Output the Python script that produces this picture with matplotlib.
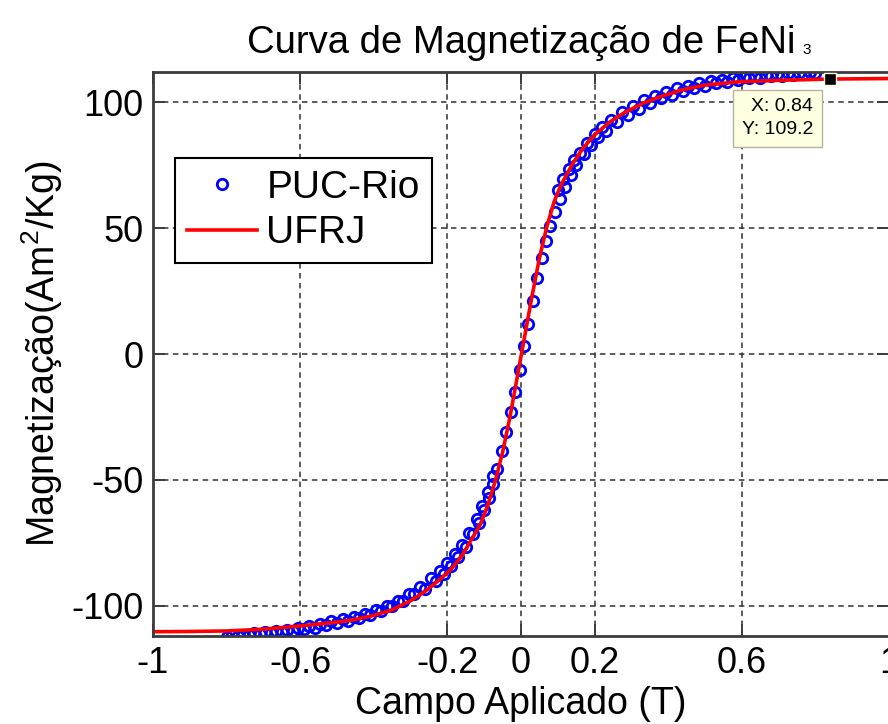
import matplotlib
matplotlib.use("Agg")
import matplotlib.pyplot as plt

plt.rcParams['font.family'] = ['Liberation Sans', 'DejaVu Sans']
plt.rcParams['mathtext.default'] = 'regular'
plt.rcParams['axes.unicode_minus'] = False

# UFRJ (linha vermelha)
ufrj_x = [-1.0, -0.9, -0.8, -0.7, -0.6, -0.5, -0.45, -0.4, -0.35, -0.3, -0.26,
          -0.22, -0.19, -0.16, -0.13, -0.11, -0.09, -0.07, -0.05, -0.03, -0.01,
          0.01, 0.03, 0.05, 0.07, 0.09, 0.11, 0.14, 0.17, 0.2, 0.24, 0.28, 0.33,
          0.38, 0.44, 0.5, 0.59, 0.7, 0.84, 1.0]
ufrj_y = [-110.3, -110.2, -110.0, -109.3, -108.0, -106.5, -105.4, -103.8, -101.6,
          -98.0, -94.2, -89.5, -85.5, -80.0, -72.5, -67.5, -60.0, -50.5, -39.0,
          -25.0, -9.0, 7.0, 23.0, 38.0, 50.5, 60.5, 67.5, 75.5, 82.0, 87.0,
          92.0, 95.8, 99.5, 102.3, 105.0, 106.8, 108.1, 108.7, 109.2, 109.4]

# PUC-Rio (circulos azuis): ramo ascendente
puc_x_a = [-0.80, -0.77, -0.74, -0.71, -0.68, -0.65, -0.62, -0.59, -0.56, -0.53,
           -0.50, -0.47, -0.44, -0.41, -0.38, -0.35, -0.32, -0.29, -0.26, -0.23,
           -0.21, -0.19, -0.17, -0.15, -0.13, -0.115, -0.10, -0.088, -0.076,
           -0.064, -0.052, -0.040, -0.028, -0.016, -0.004, 0.008, 0.020, 0.032,
           0.044, 0.056, 0.068, 0.080, 0.092, 0.105, 0.12, 0.135, 0.15, 0.17,
           0.19, 0.21, 0.23, 0.26, 0.29, 0.32, 0.35, 0.38, 0.41, 0.44, 0.47,
           0.50, 0.53, 0.56, 0.59, 0.62, 0.65, 0.68, 0.71, 0.74, 0.77, 0.80]
puc_y_a = [-112.5, -112.0, -111.8, -111.2, -111.0, -110.5, -110.0, -109.2, -108.8,
           -107.8, -107.0, -106.0, -104.8, -103.5, -102.0, -100.2, -98.0, -95.5,
           -93.5, -90.0, -87.5, -84.0, -80.5, -76.5, -71.5, -67.0, -62.0, -57.0,
           -51.5, -45.5, -38.5, -31.0, -23.0, -15.0, -6.5, 3.0, 12.0, 21.0, 30.0,
           38.0, 45.0, 51.0, 56.5, 61.5, 66.5, 71.0, 75.0, 79.5, 83.0, 86.0,
           88.5, 92.0, 95.0, 97.5, 99.5, 101.5, 103.0, 104.5, 105.5, 106.5,
           107.5, 108.2, 108.8, 109.5, 109.8, 110.3, 110.6, 111.0, 111.2, 111.5]
# ramo descendente
puc_x_d = [-0.785, -0.755, -0.725, -0.695, -0.665, -0.635, -0.605, -0.575, -0.545,
           -0.515, -0.485, -0.455, -0.425, -0.395, -0.365, -0.335, -0.305, -0.275,
           -0.245, -0.22, -0.20, -0.18, -0.16, -0.14, -0.12, -0.105, -0.09, -0.075,
           0.10, 0.115, 0.13, 0.145, 0.16, 0.18, 0.20, 0.22, 0.245, 0.275, 0.305,
           0.335, 0.365, 0.395, 0.425, 0.455, 0.485, 0.515, 0.545, 0.575, 0.605,
           0.635, 0.665, 0.695, 0.725, 0.755, 0.785]
puc_y_d = [-111.8, -111.5, -111.0, -110.6, -110.0, -109.6, -108.8, -108.0, -107.2,
           -106.0, -105.3, -104.4, -103.2, -101.8, -100.0, -98.0, -95.5, -92.5,
           -89.0, -86.0, -83.0, -79.5, -76.0, -71.0, -65.5, -60.5, -55.0, -48.5,
           65.0, 69.5, 73.5, 77.0, 80.0, 84.0, 87.2, 90.0, 93.0, 96.0, 98.6,
           100.8, 102.6, 104.2, 105.5, 106.6, 107.6, 108.4, 109.0, 109.6, 110.2,
           110.6, 111.0, 111.3, 111.6, 111.8, 112.0]

tip_x, tip_y = 0.84, 109.2

x_ticks = [-1, -0.6, -0.2, 0, 0.2, 0.6, 1]
x_labels = ['-1', '-0.6', '-0.2', '0', '0.2', '0.6', '1']
y_ticks = [-100, -50, 0, 50, 100]

fig = plt.figure(figsize=(8.88, 7.24), dpi=100)
ax = fig.add_axes([153 / 888, 1 - 636 / 724, 736 / 888, 564 / 724])

ax.plot(puc_x_a + puc_x_d, puc_y_a + puc_y_d, 'o', ls='none', mfc='none',
        mec='#0000ff', ms=7.5, mew=2, label='PUC-Rio')
ax.plot(ufrj_x, ufrj_y, '-', color='#ff0000', lw=2.6, label='UFRJ')

# data tip
ax.plot([tip_x], [tip_y], 's', color='k', ms=8.5, mec='#ffffe1', mew=1, zorder=5)
ax.text(0.697, 93.6, f"X: {tip_x:.2f}\nY: {tip_y:.1f}", ha='center', va='center',
        multialignment='right', fontsize=14, zorder=6, linespacing=1.45,
        bbox=dict(boxstyle='square,pad=0.45', fc='#ffffe1', ec='#b4b4a0', lw=1))

ax.set_xlim(-1, 1)
ax.set_ylim(-112, 112)
ax.set_xticks(x_ticks)
ax.set_xticklabels(x_labels)
ax.set_yticks(y_ticks)
ax.tick_params(direction='in', top=True, right=True, length=8.5, width=1.4,
               labelsize=26, pad=7, color='#3c3c3c')
ax.grid(True, color='#303030', lw=1.1, linestyle=(0, (3.6, 2.9)))
for s in ax.spines.values():
    s.set_color('#3c3c3c')
    s.set_linewidth(2)

title = ax.set_title("Curva de Magnetização de FeNi", fontsize=27.5, pad=14)
ax.set_xlabel("Campo Aplicado (T)", fontsize=27)
ax.xaxis.set_label_coords(0.5, -0.088)
ax.set_ylabel(r"Magnetização(Am$^{2}$/Kg)", fontsize=27)
ax.yaxis.set_label_coords(-0.12, 0.5)

leg = ax.legend(loc='upper left', bbox_to_anchor=(0.030, 0.8475), borderaxespad=0,
                fontsize=28, numpoints=1, handlelength=1.8, handletextpad=0.25,
                borderpad=0.3, labelspacing=0.25, fancybox=False, framealpha=1)
leg.get_frame().set_edgecolor('black')
leg.get_frame().set_linewidth(1.5)

# subscrito pequeno do titulo
fig.canvas.draw()
bb = title.get_window_extent()
fig.text((bb.x1 + 7) / 888, (bb.y0 + 4) / 724, "3", fontsize=11, ha='left', va='bottom')

fig.savefig("out.png", dpi=100)
